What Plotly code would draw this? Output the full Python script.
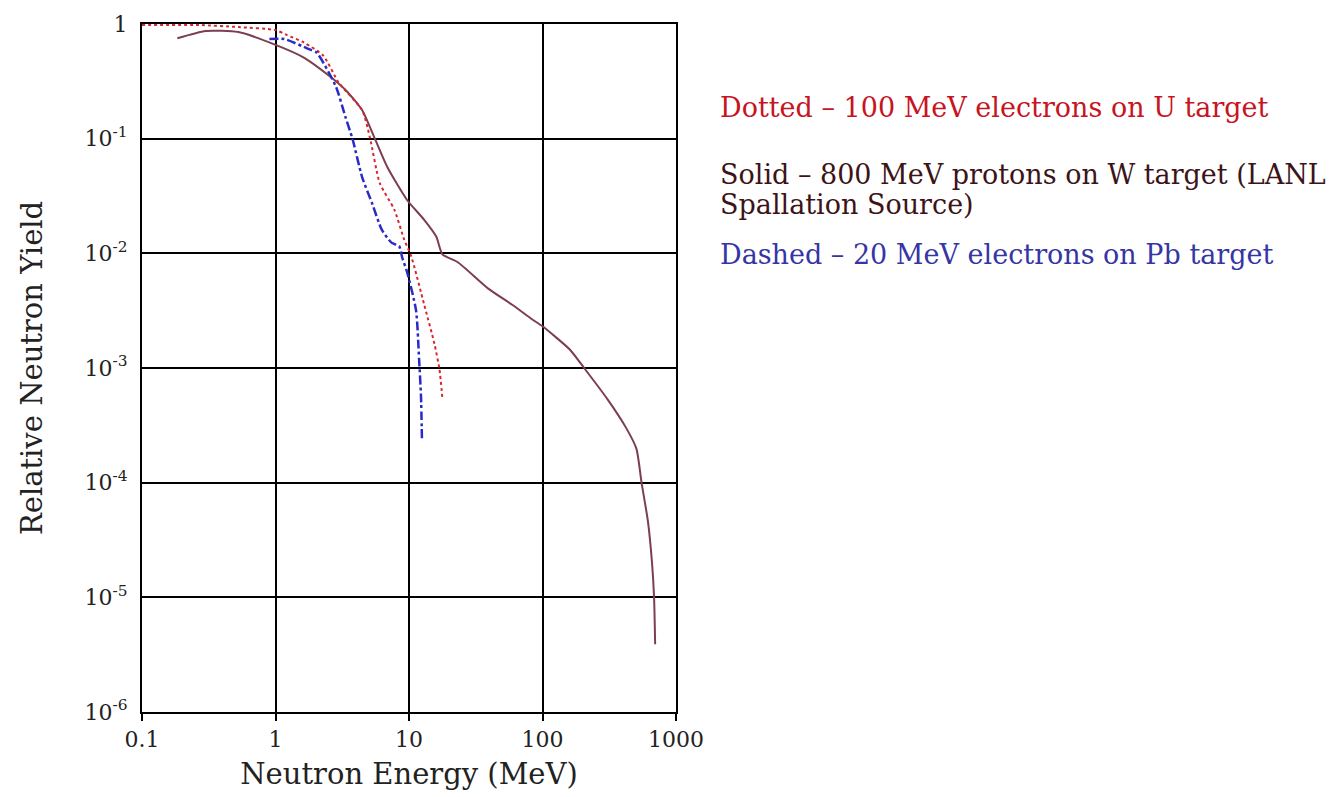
import plotly.graph_objects as go

# Neutron energy spectra (energy in MeV, relative yield)
proton_w_energy = [0.184, 0.30, 0.526, 0.98, 1.63, 2.52, 3.35, 4.46, 5.55, 6.91, 9.67,
                   13.0, 16.0, 17.8, 23.1, 39.0, 59.3, 84.0, 100.0, 160.0, 205.0,
                   310.0, 422.0, 505.0, 552.0, 615.0, 661.0, 685.0, 698.0]
proton_w_yield = [0.75, 0.87, 0.85, 0.665, 0.51, 0.354, 0.266, 0.177, 0.10, 0.056, 0.0292,
                  0.0196, 0.0140, 0.0098, 0.0084, 0.00495, 0.00356, 0.00265, 0.00231, 0.00145, 0.0010,
                  5.25e-4, 3.02e-4, 1.98e-4, 1.0e-4, 4.68e-5, 2.01e-5, 1.0e-5, 3.9e-6]

electron_u_energy = [0.10, 0.267, 0.526, 1.0, 1.22, 1.63, 2.28, 2.98, 4.46, 5.1, 6.04,
                     7.78, 9.2, 10.4, 13.0, 15.5, 16.9, 17.8]
electron_u_yield = [0.98, 0.98, 0.94, 0.885, 0.80, 0.69, 0.53, 0.307, 0.177, 0.102, 0.041,
                    0.0239, 0.0132, 0.0094, 0.00356, 0.00163, 9.8e-4, 5.4e-4]

electron_pb_energy = [0.90, 1.16, 1.80, 2.03, 2.84, 3.35, 3.77, 4.46, 5.28, 6.25, 7.39,
                      8.45, 8.89, 9.67, 11.3, 11.9, 12.3, 12.5]
electron_pb_yield = [0.74, 0.74, 0.60, 0.565, 0.283, 0.153, 0.10, 0.046, 0.0275, 0.0161, 0.0124,
                     0.0115, 0.0092, 0.0069, 0.00316, 0.00119, 5.65e-4, 2.38e-4]

x_ticks = [0.1, 1, 10, 100, 1000]
x_tick_text = ["0.1", "1", "10", "100", "1000"]
y_ticks = [1e-6, 1e-5, 1e-4, 1e-3, 1e-2, 1e-1, 1]
y_tick_text = ["10<sup>-6</sup>", "10<sup>-5</sup>", "10<sup>-4</sup>", "10<sup>-3</sup>",
               "10<sup>-2</sup>", "10<sup>-1</sup>", "1"]

legend_lines = [
    ("Dotted – 100 MeV electrons on U target", "#c8141e", 0.878),
    ("Solid – 800 MeV protons on W target (LANL", "#3c1418", 0.781),
    ("Spallation Source)", "#3c1418", 0.738),
    ("Dashed – 20 MeV electrons on Pb target", "#3535a5", 0.665),
]

SERIF = "DejaVu Serif, serif"

fig = go.Figure()
fig.add_trace(go.Scatter(
    x=proton_w_energy, y=proton_w_yield, mode="lines",
    line=dict(color="#7b3f4f", width=2, shape="spline", smoothing=0.6),
    showlegend=False,
))
fig.add_trace(go.Scatter(
    x=electron_u_energy, y=electron_u_yield, mode="lines",
    line=dict(color="#d8262e", width=2, dash="dot", shape="spline", smoothing=0.6),
    showlegend=False,
))
fig.add_trace(go.Scatter(
    x=electron_pb_energy, y=electron_pb_yield, mode="lines",
    line=dict(color="#2a2ac8", width=2.5, dash="dashdot", shape="spline", smoothing=0.6),
    showlegend=False,
))

for text, color, ypos in legend_lines:
    fig.add_annotation(
        text=text, x=1.0787, y=ypos, xref="paper", yref="paper",
        xanchor="left", yanchor="middle", showarrow=False,
        font=dict(family=SERIF, size=27, color=color),
    )

fig.update_xaxes(
    type="log", range=[-1, 3],
    tickvals=x_ticks, ticktext=x_tick_text,
    showgrid=True, gridcolor="black", gridwidth=2,
    showline=True, linecolor="black", linewidth=2, mirror=True,
    ticks="outside", ticklen=7, tickcolor="black", tickwidth=2,
    tickfont=dict(family=SERIF, size=22, color="#222"),
    title=dict(text="Neutron Energy (MeV)", standoff=12,
               font=dict(family=SERIF, size=29, color="#222")),
    zeroline=False,
)
fig.update_yaxes(
    type="log", range=[-6, 0],
    tickvals=y_ticks, ticktext=y_tick_text,
    showgrid=True, gridcolor="black", gridwidth=2,
    showline=True, linecolor="black", linewidth=2, mirror=True,
    ticks="", ticklabelstandoff=8,
    tickfont=dict(family=SERIF, size=22, color="#222"),
    title=dict(text="Relative Neutron Yield", standoff=33,
               font=dict(family=SERIF, size=29, color="#222")),
    zeroline=False,
)

fig.update_layout(
    width=1336, height=797,
    margin=dict(l=142, r=660, t=15, b=82),
    plot_bgcolor="white", paper_bgcolor="white",
)

fig.write_html("out.html")
